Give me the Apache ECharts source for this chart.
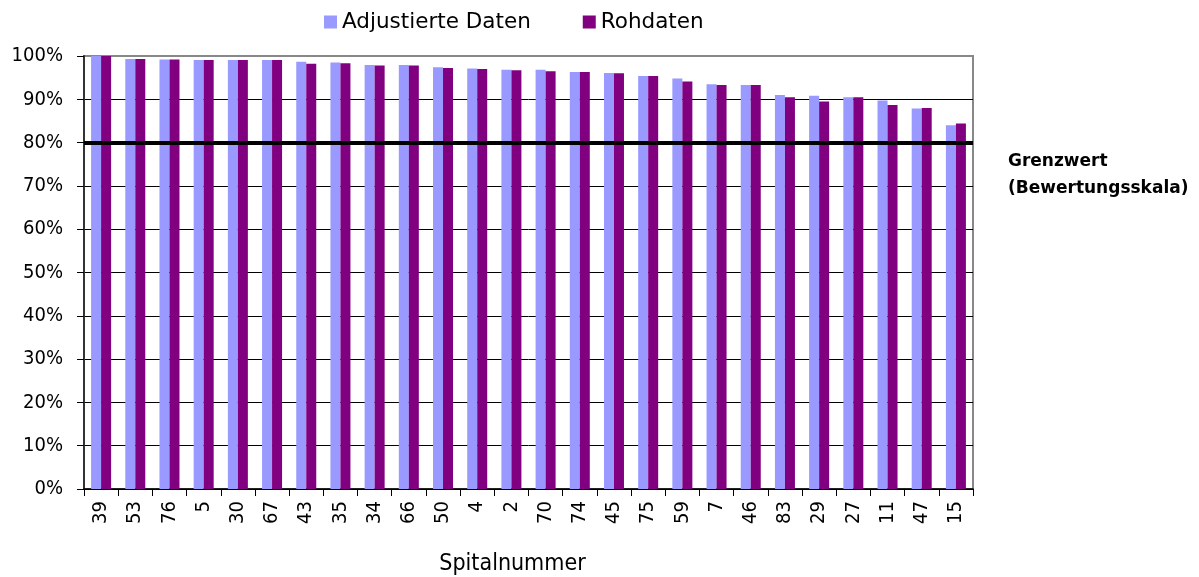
<!DOCTYPE html>
<html>
<head>
<meta charset="utf-8">
<script src="https://cdn.jsdelivr.net/npm/echarts@6/dist/echarts.min.js"></script>
<style>
    html, body { margin: 0; padding: 0; background: #fff; }
    #chart { width: 1199px; height: 577px; }
</style>
</head>
<body>
<div id="chart"></div>
<script>
// Spitalnummern, nach Wert sortiert
var spitaeler = ['39', '53', '76', '5', '30', '67', '43', '35', '34', '66', '50', '4', '2',
    '70', '74', '45', '75', '59', '7', '46', '83', '29', '27', '11', '47', '15'];
var adjustiert = [100, 99.3, 99.2, 99.1, 99.1, 99.1, 98.7, 98.5, 97.9, 97.9, 97.4, 97.1, 96.8,
    96.8, 96.3, 96.1, 95.4, 94.8, 93.5, 93.3, 91.0, 90.8, 90.5, 89.7, 87.9, 84.0];
var rohdaten = [100, 99.3, 99.2, 99.1, 99.1, 99.1, 98.2, 98.3, 97.8, 97.8, 97.2, 97.0, 96.7,
    96.5, 96.3, 96.0, 95.4, 94.1, 93.3, 93.3, 90.5, 89.5, 90.5, 88.7, 88.0, 84.4];
var grenzwert = 80;

var font = '"DejaVu Sans Condensed", "DejaVu Sans"';
var chart = echarts.init(document.getElementById('chart'));

//Gitterlinien: schwarz, oberste grau (Rahmen)
var splitColors = [];
for (var i = 0; i < 10; i++) splitColors.push('#000');
splitColors.push('#888');

chart.setOption({
    animation: false,
    legend: {
        left: 319,
        top: 6,
        itemWidth: 13,
        itemHeight: 13,
        itemGap: 52,
        icon: 'rect',
        textStyle: { fontFamily: 'DejaVu Sans', fontSize: 21.5, color: '#000' },
        data: ['Adjustierte Daten', 'Rohdaten']
    },
    grid: {
        left: 84,
        right: 226,
        top: 56,
        bottom: 88,
        outerBoundsMode: 'none',
        containLabel: false,
        show: true,
        borderColor: '#888',
        borderWidth: 2
    },
    xAxis: {
        type: 'category',
        data: spitaeler,
        name: 'Spitalnummer',
        nameLocation: 'middle',
        nameGap: 64,
        nameTextStyle: { fontFamily: font, fontSize: 23, color: '#000', padding: [0, 32, 0, 0] },
        axisLine: { lineStyle: { color: '#000', width: 1.5 } },
        axisTick: { show: true, length: 7, lineStyle: { color: '#000' } },
        axisLabel: {
            rotate: 90,
            margin: 12,
            interval: 0,
            fontFamily: font,
            fontSize: 20,
            color: '#000'
        }
    },
    yAxis: {
        type: 'value',
        min: 0,
        max: 100,
        interval: 10,
        axisLine: { show: true, lineStyle: { color: '#333', width: 2 } },
        axisTick: { show: true, length: 7, lineStyle: { color: '#000' } },
        axisLabel: {
            formatter: '{value}%',
            margin: 21,
            fontFamily: font,
            fontSize: 20,
            color: '#000'
        },
        splitLine: { show: true, lineStyle: { color: splitColors, width: 1 } }
    },
    series: [{
        name: 'Adjustierte Daten',
        type: 'bar',
        data: adjustiert,
        barWidth: 10,
        barGap: '0%',
        itemStyle: { color: '#9999FF' },
        markLine: {
            silent: true,
            symbol: 'none',
            label: { show: false },
            lineStyle: { color: '#000', width: 4, type: 'solid' },
            data: [{ yAxis: grenzwert }]
        }
    }, {
        name: 'Rohdaten',
        type: 'bar',
        data: rohdaten,
        barWidth: 10,
        barGap: '0%',
        itemStyle: { color: '#800080' }
    }],
    graphic: [{
        type: 'text',
        left: 1008,
        top: 148,
        style: {
            text: 'Grenzwert\n(Bewertungsskala)',
            font: 'bold 17px "DejaVu Sans"',
            lineHeight: 27,
            fill: '#000'
        }
    }]
});
</script>
</body>
</html>
